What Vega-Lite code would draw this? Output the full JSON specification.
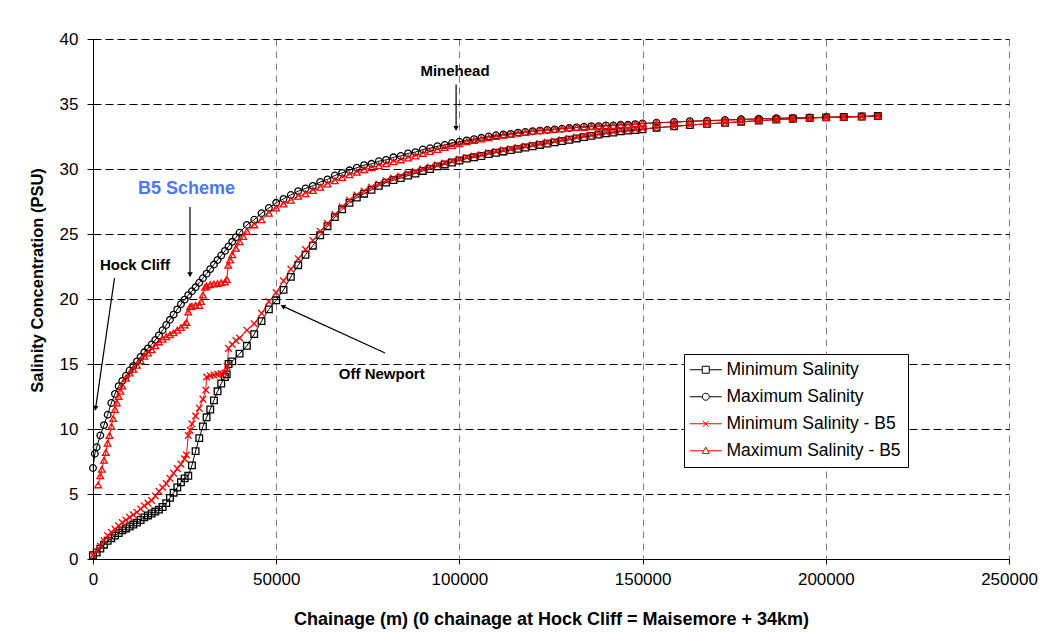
{
"$schema": "https://vega.github.io/schema/vega-lite/v6.json",
"width": 916, "height": 520,
"autosize": {"type": "none"},
"padding": {"left": 93, "top": 39, "right": 33, "bottom": 74},
"background": "white",
"config": {"view": {"stroke": null}, "font": "Liberation Sans"},
"datasets": {
"main": [
{"s":"Minimum Salinity","x":0,"y":0.3},{"s":"Minimum Salinity","x":1000,"y":0.5},{"s":"Minimum Salinity","x":2000,"y":0.8},{"s":"Minimum Salinity","x":3000,"y":1.1},{"s":"Minimum Salinity","x":4000,"y":1.4},{"s":"Minimum Salinity","x":5000,"y":1.6},{"s":"Minimum Salinity","x":6000,"y":1.8},{"s":"Minimum Salinity","x":7000,"y":2.0},{"s":"Minimum Salinity","x":8000,"y":2.2},{"s":"Minimum Salinity","x":9000,"y":2.35},{"s":"Minimum Salinity","x":10000,"y":2.5},{"s":"Minimum Salinity","x":11000,"y":2.65},{"s":"Minimum Salinity","x":12000,"y":2.8},{"s":"Minimum Salinity","x":13000,"y":3.0},{"s":"Minimum Salinity","x":14000,"y":3.2},{"s":"Minimum Salinity","x":15000,"y":3.35},{"s":"Minimum Salinity","x":16000,"y":3.5},{"s":"Minimum Salinity","x":17000,"y":3.65},{"s":"Minimum Salinity","x":18000,"y":3.8},{"s":"Minimum Salinity","x":19000,"y":4.0},{"s":"Minimum Salinity","x":20000,"y":4.3},{"s":"Minimum Salinity","x":21000,"y":4.7},{"s":"Minimum Salinity","x":22000,"y":5.1},{"s":"Minimum Salinity","x":23000,"y":5.5},{"s":"Minimum Salinity","x":24000,"y":5.9},{"s":"Minimum Salinity","x":25000,"y":6.2},{"s":"Minimum Salinity","x":26000,"y":6.4},{"s":"Minimum Salinity","x":27000,"y":7.2},{"s":"Minimum Salinity","x":28000,"y":8.3},{"s":"Minimum Salinity","x":29000,"y":9.3},{"s":"Minimum Salinity","x":30000,"y":10.2},{"s":"Minimum Salinity","x":31000,"y":10.9},{"s":"Minimum Salinity","x":32000,"y":11.5},{"s":"Minimum Salinity","x":33000,"y":12.2},{"s":"Minimum Salinity","x":34000,"y":12.9},{"s":"Minimum Salinity","x":35000,"y":13.5},{"s":"Minimum Salinity","x":36000,"y":14.0},{"s":"Minimum Salinity","x":36500,"y":14.2},{"s":"Minimum Salinity","x":37000,"y":15.0},{"s":"Minimum Salinity","x":38000,"y":15.2},{"s":"Minimum Salinity","x":40000,"y":15.8},{"s":"Minimum Salinity","x":42000,"y":16.4},{"s":"Minimum Salinity","x":44000,"y":17.3},{"s":"Minimum Salinity","x":46000,"y":18.3},{"s":"Minimum Salinity","x":48000,"y":19.2},{"s":"Minimum Salinity","x":50000,"y":19.9},{"s":"Minimum Salinity","x":52000,"y":20.7},{"s":"Minimum Salinity","x":54000,"y":21.7},{"s":"Minimum Salinity","x":56000,"y":22.6},{"s":"Minimum Salinity","x":58000,"y":23.4},{"s":"Minimum Salinity","x":60000,"y":24.1},{"s":"Minimum Salinity","x":62000,"y":24.9},{"s":"Minimum Salinity","x":64000,"y":25.6},{"s":"Minimum Salinity","x":66000,"y":26.3},{"s":"Minimum Salinity","x":68000,"y":26.9},{"s":"Minimum Salinity","x":70000,"y":27.4},{"s":"Minimum Salinity","x":72000,"y":27.8},{"s":"Minimum Salinity","x":74000,"y":28.1},{"s":"Minimum Salinity","x":76000,"y":28.4},{"s":"Minimum Salinity","x":78000,"y":28.7},{"s":"Minimum Salinity","x":80000,"y":28.95},{"s":"Minimum Salinity","x":82000,"y":29.15},{"s":"Minimum Salinity","x":84000,"y":29.3},{"s":"Minimum Salinity","x":86000,"y":29.5},{"s":"Minimum Salinity","x":88000,"y":29.65},{"s":"Minimum Salinity","x":90000,"y":29.85},{"s":"Minimum Salinity","x":92000,"y":30.0},{"s":"Minimum Salinity","x":94000,"y":30.2},{"s":"Minimum Salinity","x":96000,"y":30.35},{"s":"Minimum Salinity","x":98000,"y":30.5},{"s":"Minimum Salinity","x":100000,"y":30.65},{"s":"Minimum Salinity","x":102000,"y":30.8},{"s":"Minimum Salinity","x":104000,"y":30.9},{"s":"Minimum Salinity","x":106000,"y":31.0},{"s":"Minimum Salinity","x":108000,"y":31.15},{"s":"Minimum Salinity","x":110000,"y":31.25},{"s":"Minimum Salinity","x":112000,"y":31.35},{"s":"Minimum Salinity","x":114000,"y":31.45},{"s":"Minimum Salinity","x":116000,"y":31.55},{"s":"Minimum Salinity","x":118000,"y":31.65},{"s":"Minimum Salinity","x":120000,"y":31.75},{"s":"Minimum Salinity","x":122000,"y":31.85},{"s":"Minimum Salinity","x":124000,"y":31.95},{"s":"Minimum Salinity","x":126000,"y":32.05},{"s":"Minimum Salinity","x":128000,"y":32.15},{"s":"Minimum Salinity","x":130000,"y":32.25},{"s":"Minimum Salinity","x":132000,"y":32.35},{"s":"Minimum Salinity","x":134000,"y":32.45},{"s":"Minimum Salinity","x":136000,"y":32.55},{"s":"Minimum Salinity","x":138000,"y":32.65},{"s":"Minimum Salinity","x":140000,"y":32.75},{"s":"Minimum Salinity","x":142000,"y":32.8},{"s":"Minimum Salinity","x":144000,"y":32.9},{"s":"Minimum Salinity","x":146000,"y":32.95},{"s":"Minimum Salinity","x":148000,"y":33.0},{"s":"Minimum Salinity","x":150000,"y":33.05},{"s":"Minimum Salinity","x":153800,"y":33.18},{"s":"Minimum Salinity","x":158600,"y":33.28},{"s":"Minimum Salinity","x":162900,"y":33.38},{"s":"Minimum Salinity","x":167600,"y":33.48},{"s":"Minimum Salinity","x":172500,"y":33.56},{"s":"Minimum Salinity","x":176900,"y":33.64},{"s":"Minimum Salinity","x":181700,"y":33.72},{"s":"Minimum Salinity","x":186500,"y":33.8},{"s":"Minimum Salinity","x":191000,"y":33.86},{"s":"Minimum Salinity","x":195600,"y":33.92},{"s":"Minimum Salinity","x":200100,"y":33.97},{"s":"Minimum Salinity","x":204900,"y":34.0},{"s":"Minimum Salinity","x":209800,"y":34.04},{"s":"Minimum Salinity","x":214200,"y":34.08},
{"s":"Maximum Salinity","x":0,"y":7.0},{"s":"Maximum Salinity","x":500,"y":8.1},{"s":"Maximum Salinity","x":1000,"y":8.6},{"s":"Maximum Salinity","x":2000,"y":9.5},{"s":"Maximum Salinity","x":3000,"y":10.3},{"s":"Maximum Salinity","x":4000,"y":11.1},{"s":"Maximum Salinity","x":5000,"y":12.0},{"s":"Maximum Salinity","x":6000,"y":12.7},{"s":"Maximum Salinity","x":7000,"y":13.3},{"s":"Maximum Salinity","x":8000,"y":13.7},{"s":"Maximum Salinity","x":9000,"y":14.1},{"s":"Maximum Salinity","x":10000,"y":14.5},{"s":"Maximum Salinity","x":11000,"y":14.85},{"s":"Maximum Salinity","x":12000,"y":15.2},{"s":"Maximum Salinity","x":13000,"y":15.55},{"s":"Maximum Salinity","x":14000,"y":15.9},{"s":"Maximum Salinity","x":15000,"y":16.2},{"s":"Maximum Salinity","x":16000,"y":16.5},{"s":"Maximum Salinity","x":17000,"y":16.85},{"s":"Maximum Salinity","x":18000,"y":17.2},{"s":"Maximum Salinity","x":19000,"y":17.6},{"s":"Maximum Salinity","x":20000,"y":18.0},{"s":"Maximum Salinity","x":21000,"y":18.4},{"s":"Maximum Salinity","x":22000,"y":18.8},{"s":"Maximum Salinity","x":23000,"y":19.2},{"s":"Maximum Salinity","x":24000,"y":19.6},{"s":"Maximum Salinity","x":25000,"y":19.95},{"s":"Maximum Salinity","x":26000,"y":20.3},{"s":"Maximum Salinity","x":27000,"y":20.6},{"s":"Maximum Salinity","x":28000,"y":20.9},{"s":"Maximum Salinity","x":29000,"y":21.25},{"s":"Maximum Salinity","x":30000,"y":21.6},{"s":"Maximum Salinity","x":31000,"y":21.95},{"s":"Maximum Salinity","x":32000,"y":22.3},{"s":"Maximum Salinity","x":33000,"y":22.65},{"s":"Maximum Salinity","x":34000,"y":23.0},{"s":"Maximum Salinity","x":35000,"y":23.35},{"s":"Maximum Salinity","x":36000,"y":23.7},{"s":"Maximum Salinity","x":37000,"y":24.05},{"s":"Maximum Salinity","x":38000,"y":24.4},{"s":"Maximum Salinity","x":39000,"y":24.75},{"s":"Maximum Salinity","x":40000,"y":25.1},{"s":"Maximum Salinity","x":42000,"y":25.7},{"s":"Maximum Salinity","x":44000,"y":26.1},{"s":"Maximum Salinity","x":46000,"y":26.6},{"s":"Maximum Salinity","x":48000,"y":27.0},{"s":"Maximum Salinity","x":50000,"y":27.4},{"s":"Maximum Salinity","x":52000,"y":27.7},{"s":"Maximum Salinity","x":54000,"y":28.0},{"s":"Maximum Salinity","x":56000,"y":28.3},{"s":"Maximum Salinity","x":58000,"y":28.5},{"s":"Maximum Salinity","x":60000,"y":28.7},{"s":"Maximum Salinity","x":62000,"y":29.0},{"s":"Maximum Salinity","x":64000,"y":29.2},{"s":"Maximum Salinity","x":66000,"y":29.5},{"s":"Maximum Salinity","x":68000,"y":29.7},{"s":"Maximum Salinity","x":70000,"y":29.9},{"s":"Maximum Salinity","x":72000,"y":30.1},{"s":"Maximum Salinity","x":74000,"y":30.3},{"s":"Maximum Salinity","x":76000,"y":30.4},{"s":"Maximum Salinity","x":78000,"y":30.6},{"s":"Maximum Salinity","x":80000,"y":30.7},{"s":"Maximum Salinity","x":82000,"y":30.9},{"s":"Maximum Salinity","x":84000,"y":31.0},{"s":"Maximum Salinity","x":86000,"y":31.2},{"s":"Maximum Salinity","x":88000,"y":31.3},{"s":"Maximum Salinity","x":90000,"y":31.5},{"s":"Maximum Salinity","x":92000,"y":31.6},{"s":"Maximum Salinity","x":94000,"y":31.75},{"s":"Maximum Salinity","x":96000,"y":31.85},{"s":"Maximum Salinity","x":98000,"y":32.0},{"s":"Maximum Salinity","x":100000,"y":32.1},{"s":"Maximum Salinity","x":102000,"y":32.2},{"s":"Maximum Salinity","x":104000,"y":32.3},{"s":"Maximum Salinity","x":106000,"y":32.4},{"s":"Maximum Salinity","x":108000,"y":32.5},{"s":"Maximum Salinity","x":110000,"y":32.6},{"s":"Maximum Salinity","x":112000,"y":32.65},{"s":"Maximum Salinity","x":114000,"y":32.7},{"s":"Maximum Salinity","x":116000,"y":32.8},{"s":"Maximum Salinity","x":118000,"y":32.85},{"s":"Maximum Salinity","x":120000,"y":32.9},{"s":"Maximum Salinity","x":122000,"y":32.95},{"s":"Maximum Salinity","x":124000,"y":33.0},{"s":"Maximum Salinity","x":126000,"y":33.05},{"s":"Maximum Salinity","x":128000,"y":33.1},{"s":"Maximum Salinity","x":130000,"y":33.15},{"s":"Maximum Salinity","x":132000,"y":33.2},{"s":"Maximum Salinity","x":134000,"y":33.25},{"s":"Maximum Salinity","x":136000,"y":33.3},{"s":"Maximum Salinity","x":138000,"y":33.3},{"s":"Maximum Salinity","x":140000,"y":33.35},{"s":"Maximum Salinity","x":142000,"y":33.35},{"s":"Maximum Salinity","x":144000,"y":33.4},{"s":"Maximum Salinity","x":146000,"y":33.4},{"s":"Maximum Salinity","x":148000,"y":33.45},{"s":"Maximum Salinity","x":150000,"y":33.5},{"s":"Maximum Salinity","x":153800,"y":33.56},{"s":"Maximum Salinity","x":158600,"y":33.62},{"s":"Maximum Salinity","x":162900,"y":33.68},{"s":"Maximum Salinity","x":167600,"y":33.72},{"s":"Maximum Salinity","x":172500,"y":33.77},{"s":"Maximum Salinity","x":176900,"y":33.82},{"s":"Maximum Salinity","x":181700,"y":33.86},{"s":"Maximum Salinity","x":186500,"y":33.9},{"s":"Maximum Salinity","x":191000,"y":33.93},{"s":"Maximum Salinity","x":195600,"y":33.96},{"s":"Maximum Salinity","x":200100,"y":33.98},{"s":"Maximum Salinity","x":204900,"y":34.0},{"s":"Maximum Salinity","x":209800,"y":34.04},{"s":"Maximum Salinity","x":214200,"y":34.08},
{"s":"Minimum Salinity - B5","x":0,"y":0.3},{"s":"Minimum Salinity - B5","x":1000,"y":0.6},{"s":"Minimum Salinity - B5","x":2000,"y":1.0},{"s":"Minimum Salinity - B5","x":3000,"y":1.4},{"s":"Minimum Salinity - B5","x":4000,"y":1.8},{"s":"Minimum Salinity - B5","x":5000,"y":2.05},{"s":"Minimum Salinity - B5","x":6000,"y":2.3},{"s":"Minimum Salinity - B5","x":7000,"y":2.55},{"s":"Minimum Salinity - B5","x":8000,"y":2.8},{"s":"Minimum Salinity - B5","x":9000,"y":3.0},{"s":"Minimum Salinity - B5","x":10000,"y":3.2},{"s":"Minimum Salinity - B5","x":11000,"y":3.4},{"s":"Minimum Salinity - B5","x":12000,"y":3.6},{"s":"Minimum Salinity - B5","x":13000,"y":3.85},{"s":"Minimum Salinity - B5","x":14000,"y":4.1},{"s":"Minimum Salinity - B5","x":15000,"y":4.3},{"s":"Minimum Salinity - B5","x":16000,"y":4.5},{"s":"Minimum Salinity - B5","x":17000,"y":4.85},{"s":"Minimum Salinity - B5","x":18000,"y":5.2},{"s":"Minimum Salinity - B5","x":19000,"y":5.5},{"s":"Minimum Salinity - B5","x":20000,"y":5.8},{"s":"Minimum Salinity - B5","x":21000,"y":6.2},{"s":"Minimum Salinity - B5","x":22000,"y":6.6},{"s":"Minimum Salinity - B5","x":23000,"y":6.95},{"s":"Minimum Salinity - B5","x":24000,"y":7.3},{"s":"Minimum Salinity - B5","x":25000,"y":7.7},{"s":"Minimum Salinity - B5","x":25500,"y":8.0},{"s":"Minimum Salinity - B5","x":26000,"y":9.5},{"s":"Minimum Salinity - B5","x":26500,"y":9.9},{"s":"Minimum Salinity - B5","x":27000,"y":10.4},{"s":"Minimum Salinity - B5","x":28000,"y":11.0},{"s":"Minimum Salinity - B5","x":29000,"y":11.6},{"s":"Minimum Salinity - B5","x":30000,"y":12.3},{"s":"Minimum Salinity - B5","x":30800,"y":13.0},{"s":"Minimum Salinity - B5","x":31000,"y":14.0},{"s":"Minimum Salinity - B5","x":32000,"y":14.1},{"s":"Minimum Salinity - B5","x":33000,"y":14.15},{"s":"Minimum Salinity - B5","x":34000,"y":14.2},{"s":"Minimum Salinity - B5","x":35000,"y":14.25},{"s":"Minimum Salinity - B5","x":36000,"y":14.3},{"s":"Minimum Salinity - B5","x":36600,"y":14.8},{"s":"Minimum Salinity - B5","x":37000,"y":16.2},{"s":"Minimum Salinity - B5","x":38000,"y":16.5},{"s":"Minimum Salinity - B5","x":39000,"y":16.8},{"s":"Minimum Salinity - B5","x":40000,"y":17.0},{"s":"Minimum Salinity - B5","x":42000,"y":17.6},{"s":"Minimum Salinity - B5","x":44000,"y":18.1},{"s":"Minimum Salinity - B5","x":46000,"y":18.9},{"s":"Minimum Salinity - B5","x":48000,"y":19.8},{"s":"Minimum Salinity - B5","x":50000,"y":20.5},{"s":"Minimum Salinity - B5","x":52000,"y":21.4},{"s":"Minimum Salinity - B5","x":54000,"y":22.3},{"s":"Minimum Salinity - B5","x":56000,"y":23.1},{"s":"Minimum Salinity - B5","x":58000,"y":23.8},{"s":"Minimum Salinity - B5","x":60000,"y":24.5},{"s":"Minimum Salinity - B5","x":62000,"y":25.2},{"s":"Minimum Salinity - B5","x":64000,"y":25.8},{"s":"Minimum Salinity - B5","x":66000,"y":26.5},{"s":"Minimum Salinity - B5","x":68000,"y":27.1},{"s":"Minimum Salinity - B5","x":70000,"y":27.6},{"s":"Minimum Salinity - B5","x":72000,"y":28.0},{"s":"Minimum Salinity - B5","x":74000,"y":28.3},{"s":"Minimum Salinity - B5","x":76000,"y":28.6},{"s":"Minimum Salinity - B5","x":78000,"y":28.85},{"s":"Minimum Salinity - B5","x":80000,"y":29.1},{"s":"Minimum Salinity - B5","x":82000,"y":29.3},{"s":"Minimum Salinity - B5","x":84000,"y":29.45},{"s":"Minimum Salinity - B5","x":86000,"y":29.65},{"s":"Minimum Salinity - B5","x":88000,"y":29.8},{"s":"Minimum Salinity - B5","x":90000,"y":30.0},{"s":"Minimum Salinity - B5","x":92000,"y":30.15},{"s":"Minimum Salinity - B5","x":94000,"y":30.3},{"s":"Minimum Salinity - B5","x":96000,"y":30.45},{"s":"Minimum Salinity - B5","x":98000,"y":30.6},{"s":"Minimum Salinity - B5","x":100000,"y":30.75},{"s":"Minimum Salinity - B5","x":102000,"y":30.9},{"s":"Minimum Salinity - B5","x":104000,"y":31.0},{"s":"Minimum Salinity - B5","x":106000,"y":31.1},{"s":"Minimum Salinity - B5","x":108000,"y":31.25},{"s":"Minimum Salinity - B5","x":110000,"y":31.35},{"s":"Minimum Salinity - B5","x":112000,"y":31.45},{"s":"Minimum Salinity - B5","x":114000,"y":31.55},{"s":"Minimum Salinity - B5","x":116000,"y":31.65},{"s":"Minimum Salinity - B5","x":118000,"y":31.75},{"s":"Minimum Salinity - B5","x":120000,"y":31.85},{"s":"Minimum Salinity - B5","x":122000,"y":31.95},{"s":"Minimum Salinity - B5","x":124000,"y":32.05},{"s":"Minimum Salinity - B5","x":126000,"y":32.15},{"s":"Minimum Salinity - B5","x":128000,"y":32.25},{"s":"Minimum Salinity - B5","x":130000,"y":32.35},{"s":"Minimum Salinity - B5","x":132000,"y":32.45},{"s":"Minimum Salinity - B5","x":134000,"y":32.55},{"s":"Minimum Salinity - B5","x":136000,"y":32.6},{"s":"Minimum Salinity - B5","x":138000,"y":32.7},{"s":"Minimum Salinity - B5","x":140000,"y":32.8},{"s":"Minimum Salinity - B5","x":142000,"y":32.85},{"s":"Minimum Salinity - B5","x":144000,"y":32.95},{"s":"Minimum Salinity - B5","x":146000,"y":33.0},{"s":"Minimum Salinity - B5","x":148000,"y":33.05},{"s":"Minimum Salinity - B5","x":150000,"y":33.1},{"s":"Minimum Salinity - B5","x":153800,"y":33.17},{"s":"Minimum Salinity - B5","x":158600,"y":33.27},{"s":"Minimum Salinity - B5","x":162900,"y":33.37},{"s":"Minimum Salinity - B5","x":167600,"y":33.47},{"s":"Minimum Salinity - B5","x":172500,"y":33.55},{"s":"Minimum Salinity - B5","x":176900,"y":33.63},{"s":"Minimum Salinity - B5","x":181700,"y":33.71},{"s":"Minimum Salinity - B5","x":186500,"y":33.79},{"s":"Minimum Salinity - B5","x":191000,"y":33.85},{"s":"Minimum Salinity - B5","x":195600,"y":33.91},{"s":"Minimum Salinity - B5","x":200100,"y":33.96},{"s":"Minimum Salinity - B5","x":204900,"y":33.99},{"s":"Minimum Salinity - B5","x":209800,"y":34.03},{"s":"Minimum Salinity - B5","x":214200,"y":34.07},
{"s":"Maximum Salinity - B5","x":1400,"y":5.7},{"s":"Maximum Salinity - B5","x":2000,"y":6.4},{"s":"Maximum Salinity - B5","x":2400,"y":6.9},{"s":"Maximum Salinity - B5","x":3000,"y":7.6},{"s":"Maximum Salinity - B5","x":3500,"y":8.2},{"s":"Maximum Salinity - B5","x":4000,"y":8.9},{"s":"Maximum Salinity - B5","x":4500,"y":9.5},{"s":"Maximum Salinity - B5","x":5000,"y":10.2},{"s":"Maximum Salinity - B5","x":5500,"y":10.8},{"s":"Maximum Salinity - B5","x":6000,"y":11.5},{"s":"Maximum Salinity - B5","x":6500,"y":12.0},{"s":"Maximum Salinity - B5","x":7000,"y":12.5},{"s":"Maximum Salinity - B5","x":7500,"y":12.9},{"s":"Maximum Salinity - B5","x":8000,"y":13.3},{"s":"Maximum Salinity - B5","x":9000,"y":13.9},{"s":"Maximum Salinity - B5","x":10000,"y":14.3},{"s":"Maximum Salinity - B5","x":11000,"y":14.6},{"s":"Maximum Salinity - B5","x":12000,"y":14.9},{"s":"Maximum Salinity - B5","x":13000,"y":15.25},{"s":"Maximum Salinity - B5","x":14000,"y":15.6},{"s":"Maximum Salinity - B5","x":15000,"y":15.85},{"s":"Maximum Salinity - B5","x":16000,"y":16.1},{"s":"Maximum Salinity - B5","x":17000,"y":16.4},{"s":"Maximum Salinity - B5","x":18000,"y":16.7},{"s":"Maximum Salinity - B5","x":19000,"y":16.9},{"s":"Maximum Salinity - B5","x":20000,"y":17.1},{"s":"Maximum Salinity - B5","x":21000,"y":17.25},{"s":"Maximum Salinity - B5","x":22000,"y":17.4},{"s":"Maximum Salinity - B5","x":23000,"y":17.6},{"s":"Maximum Salinity - B5","x":24000,"y":17.8},{"s":"Maximum Salinity - B5","x":25000,"y":18.0},{"s":"Maximum Salinity - B5","x":25500,"y":18.2},{"s":"Maximum Salinity - B5","x":26000,"y":19.0},{"s":"Maximum Salinity - B5","x":26500,"y":19.4},{"s":"Maximum Salinity - B5","x":27000,"y":19.45},{"s":"Maximum Salinity - B5","x":28000,"y":19.5},{"s":"Maximum Salinity - B5","x":29000,"y":19.5},{"s":"Maximum Salinity - B5","x":29500,"y":19.8},{"s":"Maximum Salinity - B5","x":30000,"y":20.3},{"s":"Maximum Salinity - B5","x":30600,"y":20.9},{"s":"Maximum Salinity - B5","x":31000,"y":21.0},{"s":"Maximum Salinity - B5","x":32000,"y":21.1},{"s":"Maximum Salinity - B5","x":33000,"y":21.15},{"s":"Maximum Salinity - B5","x":34000,"y":21.2},{"s":"Maximum Salinity - B5","x":35000,"y":21.25},{"s":"Maximum Salinity - B5","x":36000,"y":21.3},{"s":"Maximum Salinity - B5","x":36500,"y":21.5},{"s":"Maximum Salinity - B5","x":36900,"y":22.6},{"s":"Maximum Salinity - B5","x":37400,"y":23.0},{"s":"Maximum Salinity - B5","x":38000,"y":23.4},{"s":"Maximum Salinity - B5","x":39000,"y":23.9},{"s":"Maximum Salinity - B5","x":40000,"y":24.4},{"s":"Maximum Salinity - B5","x":41000,"y":24.8},{"s":"Maximum Salinity - B5","x":42000,"y":25.2},{"s":"Maximum Salinity - B5","x":44000,"y":25.7},{"s":"Maximum Salinity - B5","x":46000,"y":26.1},{"s":"Maximum Salinity - B5","x":48000,"y":26.6},{"s":"Maximum Salinity - B5","x":50000,"y":27.0},{"s":"Maximum Salinity - B5","x":52000,"y":27.3},{"s":"Maximum Salinity - B5","x":54000,"y":27.6},{"s":"Maximum Salinity - B5","x":56000,"y":27.9},{"s":"Maximum Salinity - B5","x":58000,"y":28.1},{"s":"Maximum Salinity - B5","x":60000,"y":28.35},{"s":"Maximum Salinity - B5","x":62000,"y":28.6},{"s":"Maximum Salinity - B5","x":64000,"y":28.85},{"s":"Maximum Salinity - B5","x":66000,"y":29.1},{"s":"Maximum Salinity - B5","x":68000,"y":29.35},{"s":"Maximum Salinity - B5","x":70000,"y":29.55},{"s":"Maximum Salinity - B5","x":72000,"y":29.75},{"s":"Maximum Salinity - B5","x":74000,"y":29.95},{"s":"Maximum Salinity - B5","x":76000,"y":30.1},{"s":"Maximum Salinity - B5","x":78000,"y":30.25},{"s":"Maximum Salinity - B5","x":80000,"y":30.4},{"s":"Maximum Salinity - B5","x":82000,"y":30.55},{"s":"Maximum Salinity - B5","x":84000,"y":30.7},{"s":"Maximum Salinity - B5","x":86000,"y":30.85},{"s":"Maximum Salinity - B5","x":88000,"y":31.0},{"s":"Maximum Salinity - B5","x":90000,"y":31.2},{"s":"Maximum Salinity - B5","x":92000,"y":31.35},{"s":"Maximum Salinity - B5","x":94000,"y":31.5},{"s":"Maximum Salinity - B5","x":96000,"y":31.65},{"s":"Maximum Salinity - B5","x":98000,"y":31.8},{"s":"Maximum Salinity - B5","x":100000,"y":31.95},{"s":"Maximum Salinity - B5","x":102000,"y":32.1},{"s":"Maximum Salinity - B5","x":104000,"y":32.2},{"s":"Maximum Salinity - B5","x":106000,"y":32.3},{"s":"Maximum Salinity - B5","x":108000,"y":32.4},{"s":"Maximum Salinity - B5","x":110000,"y":32.5},{"s":"Maximum Salinity - B5","x":112000,"y":32.6},{"s":"Maximum Salinity - B5","x":114000,"y":32.65},{"s":"Maximum Salinity - B5","x":116000,"y":32.75},{"s":"Maximum Salinity - B5","x":118000,"y":32.8},{"s":"Maximum Salinity - B5","x":120000,"y":32.9},{"s":"Maximum Salinity - B5","x":122000,"y":32.95},{"s":"Maximum Salinity - B5","x":124000,"y":33.0},{"s":"Maximum Salinity - B5","x":126000,"y":33.05},{"s":"Maximum Salinity - B5","x":128000,"y":33.1},{"s":"Maximum Salinity - B5","x":130000,"y":33.15},{"s":"Maximum Salinity - B5","x":132000,"y":33.2},{"s":"Maximum Salinity - B5","x":134000,"y":33.2},{"s":"Maximum Salinity - B5","x":136000,"y":33.25},{"s":"Maximum Salinity - B5","x":138000,"y":33.3},{"s":"Maximum Salinity - B5","x":140000,"y":33.3},{"s":"Maximum Salinity - B5","x":142000,"y":33.35},{"s":"Maximum Salinity - B5","x":144000,"y":33.4},{"s":"Maximum Salinity - B5","x":146000,"y":33.4},{"s":"Maximum Salinity - B5","x":148000,"y":33.45},{"s":"Maximum Salinity - B5","x":150000,"y":33.5},{"s":"Maximum Salinity - B5","x":153800,"y":33.54},{"s":"Maximum Salinity - B5","x":158600,"y":33.6},{"s":"Maximum Salinity - B5","x":162900,"y":33.66},{"s":"Maximum Salinity - B5","x":167600,"y":33.7},{"s":"Maximum Salinity - B5","x":172500,"y":33.75},{"s":"Maximum Salinity - B5","x":176900,"y":33.8},{"s":"Maximum Salinity - B5","x":181700,"y":33.85},{"s":"Maximum Salinity - B5","x":186500,"y":33.89},{"s":"Maximum Salinity - B5","x":191000,"y":33.92},{"s":"Maximum Salinity - B5","x":195600,"y":33.95},{"s":"Maximum Salinity - B5","x":200100,"y":33.97},{"s":"Maximum Salinity - B5","x":204900,"y":34.0},{"s":"Maximum Salinity - B5","x":209800,"y":34.03},{"s":"Maximum Salinity - B5","x":214200,"y":34.07}
],
"arrows": [
{"x":99100,"y":36.5,"x2":99100,"y2":33.0},
{"x":26470,"y":27.08,"x2":26470,"y2":21.75},
{"x":5870,"y":21.6,"x2":640,"y2":11.45},
{"x":79700,"y":15.85,"x2":51600,"y2":19.47}
],
"heads": [
{"x":99100,"y":33.12,"a":180},
{"x":26470,"y":21.88,"a":180},
{"x":670,"y":11.6,"a":188},
{"x":51800,"y":19.44,"a":295}
],
"notes": [
{"t":"Minehead","x":98800,"y":37.56},
{"t":"Hock Cliff","x":11460,"y":22.6},
{"t":"Off Newport","x":78800,"y":14.23}
],
"scheme": [
{"t":"B5 Scheme","x":25520,"y":28.46}
]
},
"encoding": {
"x": {"field":"x","type":"quantitative","scale":{"domain":[0,250000],"nice":false,"zero":false},
 "axis":{"title":"Chainage (m) (0 chainage at Hock Cliff = Maisemore + 34km)","values":[0,50000,100000,150000,200000,250000],"format":"d",
 "labelFontSize":17,"labelFont":"Liberation Sans","labelColor":"black","labelPadding":7,"labelFlush":false,"labelOverlap":false,
 "titleFontSize":18,"titleFont":"Liberation Sans","titleFontWeight":"bold","titleColor":"black","titlePadding":23,
 "domainColor":"black","domainWidth":1,"tickColor":"black","tickSize":5,
 "grid":true,"gridColor":"#808080","gridDash":[7,5],"gridWidth":1}},
"y": {"field":"y","type":"quantitative","scale":{"domain":[0,40],"nice":false},
 "axis":{"title":"Salinity Concentration (PSU)","values":[0,5,10,15,20,25,30,35,40],
 "labelFontSize":17,"labelFont":"Liberation Sans","labelColor":"black","labelPadding":9,
 "titleFontSize":16.5,"titleFont":"Liberation Sans","titleFontWeight":"bold","titleColor":"black","titlePadding":14,"titleY":241,
 "domainColor":"black","domainWidth":1,"tickColor":"black","tickSize":6,
 "grid":true,"gridColor":"#000000","gridDash":[8,4],"gridWidth":1}}
},
"resolve": {"scale": {"shape": "independent", "color": "independent"}},
"layer": [
{"data":{"name":"main"},"mark":{"type":"line","strokeWidth":1},
 "encoding":{"color":{"field":"s","type":"nominal","legend":null,
   "scale":{"domain":["Minimum Salinity","Maximum Salinity","Minimum Salinity - B5","Maximum Salinity - B5"],"range":["#000000","#000000","#ff0000","#ff0000"]}}}},
{"data":{"name":"main"},"mark":{"type":"point","filled":false,"size":44,"strokeWidth":1.3,"opacity":1},
 "encoding":{"color":{"field":"s","type":"nominal","legend":null,
   "scale":{"domain":["Minimum Salinity","Maximum Salinity","Minimum Salinity - B5","Maximum Salinity - B5"],"range":["#000000","#000000","#ff0000","#ff0000"]}},
   "shape":{"field":"s","type":"nominal","legend":null,"scale":{"domain":["Minimum Salinity","Maximum Salinity","Minimum Salinity - B5","Maximum Salinity - B5"],"range":["square","circle","M-1,-1L1,1M-1,1L1,-1","triangle-up"]}}}},
{"data":{"name":"main"},"transform":[{"filter":"datum.x < 0"}],"mark":{"type":"point","filled":false,"size":100,"strokeWidth":1,"opacity":1},
 "encoding":{"color":{"field":"s","type":"nominal",
     "scale":{"domain":["Minimum Salinity","Maximum Salinity","Minimum Salinity - B5","Maximum Salinity - B5"],"range":["#000000","#000000","#ff0000","#ff0000"]},
     "legend":{"title":null,"orient":"none","legendX":591,"legendY":315,"strokeColor":"black","fillColor":"white","padding":7,
     "labelFontSize":17.5,"labelFont":"Liberation Sans","labelColor":"black","labelLimit":400,"symbolSize":100,"symbolOffset":6,"labelOffset":12,"rowPadding":8,"symbolStrokeWidth":1}},
   "shape":{"field":"s","type":"nominal",
     "scale":{"domain":["Minimum Salinity","Maximum Salinity","Minimum Salinity - B5","Maximum Salinity - B5"],"range":["M-3.2,0H-0.7M0.7,0H3.2M-0.7,-0.7H0.7V0.7H-0.7Z","M-3.2,0H-0.7M0.7,0H3.2M-0.7,0A0.7,0.7,0,1,0,0.7,0A0.7,0.7,0,1,0,-0.7,0Z","M-3.2,0H3.2M-0.6,-0.6L0.6,0.6M-0.6,0.6L0.6,-0.6","M-3.2,0H-0.4M0.4,0H3.2M0,-0.75L0.7,0.55H-0.7Z"]},
     "legend":{"title":null,"orient":"none","legendX":591,"legendY":315,"strokeColor":"black","fillColor":"white","padding":7,
     "labelFontSize":17.5,"labelFont":"Liberation Sans","labelColor":"black","labelLimit":400,"symbolSize":100,"symbolOffset":6,"labelOffset":12,"rowPadding":8,"symbolStrokeWidth":1}}}},
{"data":{"name":"arrows"},"mark":{"type":"rule","color":"black","strokeWidth":1.2},
 "encoding":{"x2":{"field":"x2"},"y2":{"field":"y2"}}},
{"data":{"name":"heads"},"mark":{"type":"point","shape":"triangle-up","filled":true,"color":"black","size":30,"opacity":1},
 "encoding":{"angle":{"field":"a","type":"quantitative","scale":null}}},
{"data":{"name":"notes"},"mark":{"type":"text","font":"Liberation Sans","fontWeight":"bold","fontSize":15,"color":"black","align":"center","baseline":"middle"},
 "encoding":{"text":{"field":"t"}}},
{"data":{"name":"scheme"},"mark":{"type":"text","font":"Liberation Sans","fontWeight":"bold","fontSize":18,"color":"#4a78f0","align":"center","baseline":"middle"},
 "encoding":{"text":{"field":"t"}}}
]
}
